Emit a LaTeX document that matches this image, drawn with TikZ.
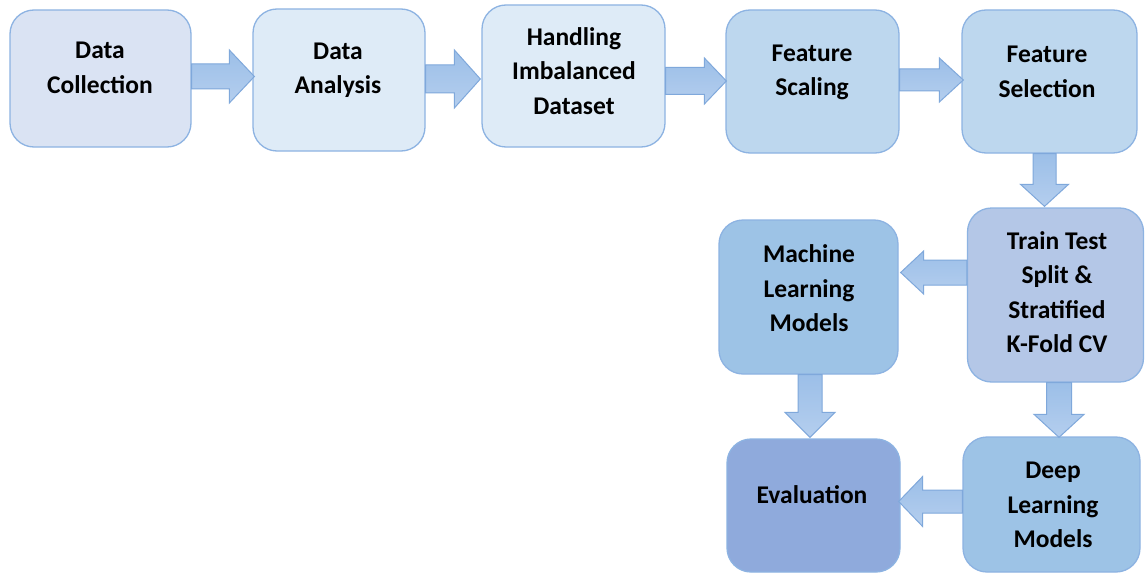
\documentclass[tikz,border=0pt]{standalone}
\usepackage{fontspec}
\setmainfont{Carlito}
\usetikzlibrary{calc}

\definecolor{boxline}{HTML}{8DB3E2}
\definecolor{arrowline}{HTML}{7FA8DB}
\definecolor{fillA}{HTML}{DAE3F3}
\definecolor{fillB}{HTML}{DEEBF7}
\definecolor{fillC}{HTML}{BDD7EE}
\definecolor{fillD}{HTML}{B4C7E7}
\definecolor{fillE}{HTML}{9DC3E6}
\definecolor{fillF}{HTML}{8FAADC}
\definecolor{arrowtop}{HTML}{9CBFE8}
\definecolor{arrowbot}{HTML}{B4CEEE}

\tikzset{
  stepbox/.style={draw=boxline, line width=1.3pt, rounded corners=24pt, inner sep=0pt},
  steptext/.style={font=\fontsize{25.5}{34.5}\selectfont\bfseries, align=center, inner sep=0pt},
  arrowbody/.style={draw=arrowline, line width=1pt, top color=arrowtop, bottom color=arrowbot, line join=miter},
}

% horizontal block arrow: start, tip, shaft half width, head half width, head length (signed)
\newcommand\harrow[5]{%
  \draw[arrowbody] let \p1=(#1), \p2=(#2), \p3=($(\p2)-(#5,0)$) in
    (\x1,\y1+#3) -- (\x3,\y1+#3) -- (\x3,\y1+#4) -- (\x2,\y1)
    -- (\x3,\y1-#4) -- (\x3,\y1-#3) -- (\x1,\y1-#3) -- cycle;}
% downward block arrow: start, tip, shaft half width, head half width, head length
\newcommand\varrow[5]{%
  \draw[arrowbody] let \p1=(#1), \p2=(#2), \p3=($(\p2)+(0,#5)$) in
    (\x1-#3,\y1) -- (\x1-#3,\y3) -- (\x1-#4,\y3) -- (\x1,\y2)
    -- (\x1+#4,\y3) -- (\x1+#3,\y3) -- (\x1+#3,\y1) -- cycle;}

\begin{document}
\begin{tikzpicture}[x=1pt, y=1pt]
  \useasboundingbox[fill=white] (0,0) rectangle (1145,-575);

  % process boxes
  \node[stepbox, fill=fillA, minimum width=181pt, minimum height=137pt] (dc) at (100.5,-78.5) {};
  \node[stepbox, fill=fillB, minimum width=172pt, minimum height=142pt] (da) at (339,-80) {};
  \node[stepbox, fill=fillB, minimum width=183pt, minimum height=142pt] (hi) at (573.5,-76) {};
  \node[stepbox, fill=fillC, minimum width=173pt, minimum height=143pt] (fs) at (812.5,-81.5) {};
  \node[stepbox, fill=fillC, minimum width=175pt, minimum height=143pt] (fsel) at (1049.5,-81.5) {};
  \node[stepbox, fill=fillD, minimum width=176pt, minimum height=174pt] (tt) at (1055.5,-295) {};
  \node[stepbox, fill=fillE, minimum width=179pt, minimum height=154pt] (ml) at (808.5,-297) {};
  \node[stepbox, fill=fillF, minimum width=173pt, minimum height=133pt] (ev) at (813.5,-505.5) {};
  \node[stepbox, fill=fillE, minimum width=177pt, minimum height=135pt] (dl) at (1051.5,-504.5) {};

  % box captions
  \node[steptext] (dct) at (100,-68) {Data\\Collection};
  \node[steptext] (dat) at (338,-70) {Data\\Analysis};
  \node[steptext] (hit) at (574,-71) {Handling\\Imbalanced\\Dataset};
  \node[steptext] (fst) at (812,-72.5) {Feature\\Scaling};
  \node[steptext] (fselt) at (1047,-72) {Feature\\Selection};
  \node[steptext] (ttt) at (1057,-292) {Train Test\\Split \&\\Stratified\\K-Fold CV};
  \node[steptext] (mlt) at (809,-288.5) {Machine\\Learning\\Models};
  \node[steptext] (evt) at (812,-495) {Evaluation};
  \node[steptext] (dlt) at (1053,-505) {Deep\\Learning\\Models};

  % block arrows between the steps
  \harrow{[yshift=2pt]dc.east}{[xshift=2pt]da.west}{12.5pt}{26.5pt}{25pt}
  \harrow{[yshift=1pt]da.east}{[xshift=-1pt]hi.west}{14pt}{29pt}{26pt}
  \harrow{[yshift=-5pt]hi.east}{[xshift=1pt]fs.west}{13.5pt}{23pt}{22pt}
  \harrow{[yshift=1.5pt]fs.east}{[xshift=2pt]fsel.west}{11pt}{22pt}{24pt}
  \varrow{[xshift=-5pt]fsel.south}{[yshift=1pt]tt.north}{11.5pt}{24pt}{22pt}
  \harrow{[yshift=22.5pt]tt.west}{[xshift=2pt]ml.east}{12.5pt}{21.5pt}{-23pt}
  \varrow{[xshift=1.5pt]ml.south}{[yshift=1pt]ev.north}{12pt}{25pt}{25pt}
  \varrow{[xshift=3.5pt]tt.south}{[yshift=-1pt]dl.north}{12.5pt}{25pt}{23pt}
  \harrow{[yshift=3pt]dl.west}{[xshift=-2pt]ev.east}{11.5pt}{25pt}{-24pt}
\end{tikzpicture}
\end{document}
